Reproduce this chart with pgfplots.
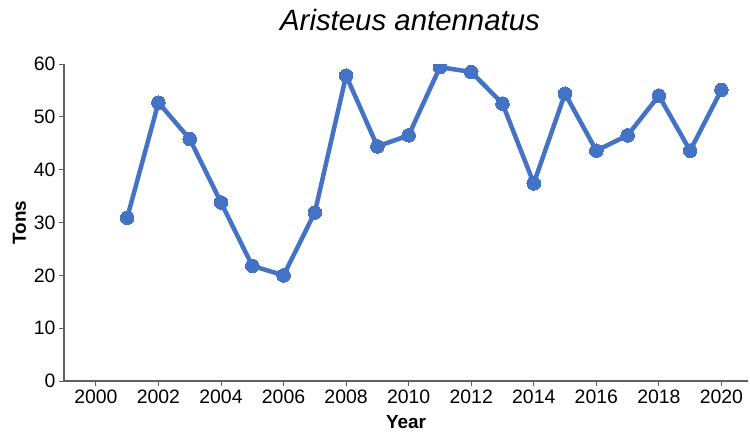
\documentclass[border=0pt]{standalone}
\usepackage{pgfplots}
\pgfplotsset{compat=1.18}
\usepackage{fontspec}
\setmainfont{Liberation Sans}
\definecolor{lineblue}{HTML}{4472C4}
\definecolor{axgray}{HTML}{606060}
\newcommand{\tickfont}{\fontsize{19.5}{22}\selectfont}
\begin{document}
\begin{tikzpicture}
\useasboundingbox (-64bp,-51bp) rectangle (686bp,381bp);
\begin{axis}[
  scale only axis,
  width=684bp, height=317bp,
  xmin=1998.98, xmax=2020.85,
  ymin=0, ymax=60,
  xtick={2000,2002,...,2020},
  ytick={0,10,...,60},
  xticklabels={2000,2002,2004,2006,2008,2010,2012,2014,2016,2018,2020},
  yticklabels={0,10,20,30,40,50,60},
  axis x line*=bottom, axis y line*=left,
  axis line style={axgray, line width=1.2bp, -},
  tick style={axgray, line width=1bp},
  tick align=outside,
  major tick length=5bp,
  every x tick label/.append style={font=\tickfont, text=black},
  every y tick label/.append style={font=\tickfont, text=black},
  xlabel={\textbf{Year}},
  ylabel={\textbf{Tons}},
  label style={font=\fontsize{19}{21}\selectfont},
  xlabel style={at={(rel axis cs:0.5,0)}, anchor=base, yshift=-47bp},
  ylabel style={at={(rel axis cs:0,0.5)}, anchor=base, yshift=38bp, xshift=0bp},
  title={\textit{Aristeus antennatus}},
  title style={at={(0.5,1)}, anchor=base, yshift=28bp, xshift=4bp, font=\fontsize{29.5}{31}\selectfont},
  clip marker paths=true,
]
\addplot[color=lineblue, line width=4.5bp, mark=*, mark size=6.8bp, mark options={fill=lineblue, draw=lineblue, line width=0pt}]
  coordinates {
  (2001,30.9) (2002,52.7) (2003,45.8) (2004,33.8) (2005,21.8)
  (2006,20.0) (2007,31.9) (2008,57.8) (2009,44.4) (2010,46.5)
  (2011,59.4) (2012,58.5) (2013,52.5) (2014,37.4) (2015,54.4)
  (2016,43.6) (2017,46.5) (2018,54.0) (2019,43.6) (2020,55.1)
  };
\end{axis}
\end{tikzpicture}
\end{document}
